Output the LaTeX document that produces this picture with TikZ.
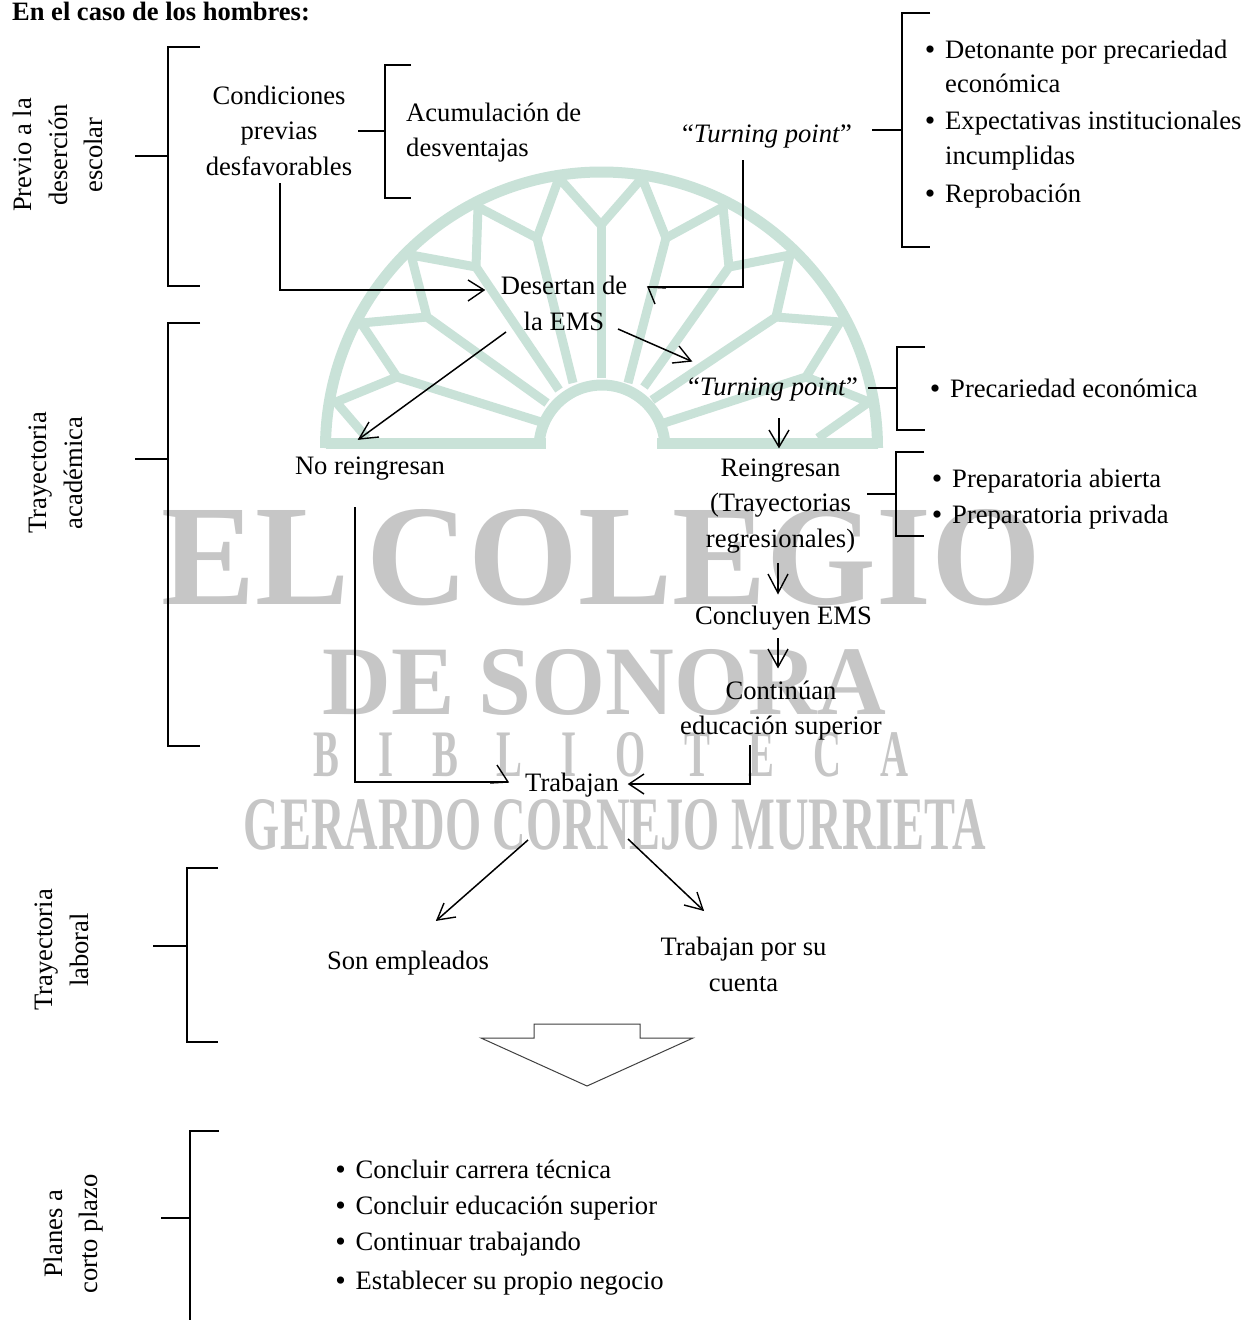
\documentclass[tikz,border=0pt]{standalone}
\usepackage{fontspec}
\usepackage{graphicx}
\setmainfont{Liberation Serif}
\usetikzlibrary{arrows.meta}
\definecolor{wmgreen}{HTML}{C9E2D8}
\definecolor{wmgray}{HTML}{C6C6C6}
\newcommand{\bul}{\makebox[15pt][l]{\raisebox{-1pt}{\fontsize{30}{30}\selectfont\hspace{-5.3pt}•}}}
\tikzset{
  x=1pt,y=-1pt,
  txt/.style={inner sep=0pt,align=center,font=\fontsize{26.6}{35.5}\selectfont,
    execute at begin node={\rule{0pt}{20pt}},execute at end node={\rule[-7pt]{0pt}{7pt}}},
  ltxt/.style={txt,align=left,anchor=west},
  sidetxt/.style={txt,rotate=90},
  wmtext/.style={inner sep=0pt,text=wmgray},
  wmline/.style={draw=wmgreen,line width=9pt,line join=miter,line cap=butt},
  wmband/.style={draw=wmgreen,line width=11pt},
  brace/.style={draw=black,line width=1.8pt,line join=miter},
  conn/.style={draw=black,line width=1.5pt,line join=miter},
  tip/.style={draw=black,line width=1.4pt,line join=miter},
}
\begin{document}
\begin{tikzpicture}
\useasboundingbox (0,0) rectangle (1243,1320);
\fill[white] (0,0) rectangle (1243,1320);
% watermark: rosette
\begin{scope}
\clip (320,448) arc[start angle=180,end angle=360,radius=281] -- cycle;
\draw[wmline] (601,378) -- (601,225);
\draw[wmline] (573,383) -- (537,238) -- (559,178) -- (601,225) -- (642,178) -- (666,238) -- (628,383);
\draw[wmline] (537,238) -- (478,207) -- (476,267) -- (559,390);
\draw[wmline] (476,267) -- (411,255) -- (427,317) -- (547,403);
\draw[wmline] (427,317) -- (361,323) -- (397,377) -- (541,422);
\draw[wmline] (397,377) -- (336,402) -- (367,438);
\draw[wmline] (666,238) -- (723,207) -- (729,267) -- (644,387);
\draw[wmline] (729,267) -- (790,255) -- (776,317) -- (652,400);
\draw[wmline] (776,317) -- (840,322) -- (806,377) -- (664,423);
\draw[wmline] (806,377) -- (869,402) -- (818,438);
\end{scope}
\draw[wmband,line cap=butt] (325.5,443) -- (546,443);
\draw[wmband,line cap=butt] (657,443) -- (877.5,443);
\draw[wmband,line cap=butt] (325.5,448) arc[start angle=180,end angle=360,radius=276];
\draw[wmband,line cap=butt] (539,448) arc[start angle=180,end angle=360,radius=63];
% watermark: text
\node[wmtext] (wm1) at (601.5,557.5) {\resizebox{879pt}{95pt}{\textbf{EL\hspace{.12em}COLEGIO}}};
\node[wmtext] (wm2) at (604.5,682.5) {\resizebox{563pt}{65pt}{\textbf{DE SONORA}}};
\node[wmtext] (wm3) at (611,755) {\resizebox{594pt}{44pt}{\textbf{B\hspace{1em}I\hspace{1em}B\hspace{1em}L\hspace{1em}I\hspace{1em}O\hspace{1em}T\hspace{1em}E\hspace{1em}C\hspace{1em}A}}};
\node[wmtext] (wm4) at (615,825) {\resizebox{742pt}{50pt}{\textbf{GERARDO CORNEJO MURRIETA}}};

% title
\node[inner sep=0pt,anchor=base west,font=\fontsize{26.5}{30}\selectfont\bfseries] (title) at (12,20) {En el caso de los hombres:};

% side labels
\node[sidetxt] (s1) at (61.5,155) {Previo a la\\deserción\\escolar};
\node[sidetxt] (s2) at (59,473) {Trayectoria\\académica};
\node[sidetxt] (s3) at (65,950) {Trayectoria\\laboral};
\node[sidetxt] (s4) at (74.5,1234) {Planes a\\corto plazo};

% brackets
\draw[brace] (200,47) -- (168,47) -- (168,286) -- (200,286);
\draw[brace] (135,156) -- (168,156);
\draw[brace] (200,323) -- (168,323) -- (168,746) -- (200,746);
\draw[brace] (135,459) -- (168,459);
\draw[brace] (218,868) -- (187,868) -- (187,1042) -- (218,1042);
\draw[brace,line width=2.2pt] (153,946) -- (187,946);
\draw[brace] (219,1131) -- (190,1131) -- (190,1320);
\draw[brace] (161,1218) -- (190,1218);
\draw[brace] (411,65) -- (385,65) -- (385,198) -- (411,198);
\draw[brace,line width=2.2pt] (358,131) -- (385,131);
\draw[brace] (930,13) -- (902,13) -- (902,247) -- (930,247);
\draw[brace] (872,130) -- (902,130);
\draw[brace] (925,347) -- (897,347) -- (897,430) -- (925,430);
\draw[brace] (868,388) -- (897,388);
\draw[brace] (924,452) -- (896,452) -- (896,536) -- (924,536);
\draw[brace] (867,494) -- (896,494);

% text nodes
\node[txt] (cond) at (279,134) {Condiciones\\previas\\desfavorables};
\node[ltxt] (acum) at (406,133) {Acumulación de\\desventajas};
\node[txt] (tp1) at (767,135.5) {“\textit{Turning point}”};
\node[ltxt] (b1) at (930,51.5) {\bul Detonante por precariedad};
\node[ltxt] (b1a) at (945,85.5) {económica};
\node[ltxt] (b2) at (930,122.5) {\bul Expectativas institucionales};
\node[ltxt] (b2a) at (945,157.5) {incumplidas};
\node[ltxt] (b3) at (930,195.5) {\bul Reprobación};
\node[txt] (des) at (564,307) {Desertan de\\la EMS};
\node[txt] (tp2) at (773,388.5) {“\textit{Turning point}”};
\node[ltxt] (pe) at (935,390.5) {\bul Precariedad económica};
\node[txt] (nor) at (370,467.5) {No reingresan};
\node[txt] (rei) at (780.5,506.5) {Reingresan\\(Trayectorias\\regresionales)};
\node[ltxt] (pa) at (937,480.5) {\bul Preparatoria abierta};
\node[ltxt] (pp) at (937,516.5) {\bul Preparatoria privada};
\node[txt] (con) at (783.5,618) {Concluyen EMS};
\node[txt] (sup) at (781,711) {Continúan\\educación superior};
\node[txt] (tra) at (572,785) {Trabajan};
\node[txt] (emp) at (408,962.5) {Son empleados};
\node[txt] (cta) at (743.5,968) {Trabajan por su\\cuenta};
\node[ltxt] (l1) at (340.5,1171.5) {\bul Concluir carrera técnica};
\node[ltxt] (l2) at (340.5,1208) {\bul Concluir educación superior};
\node[ltxt] (l3) at (340.5,1244) {\bul Continuar trabajando};
\node[ltxt] (l4) at (340.5,1283) {\bul Establecer su propio negocio};

% connector end points
\coordinate (c1s) at (280,183); \coordinate (c1m) at (280,290); \coordinate (c1e) at (484,290);
\coordinate (c2s) at (743,160); \coordinate (c2m) at (743,287); \coordinate (c2e) at (648,287);
\coordinate (c3s) at (618,329); \coordinate (c3e) at (691,361);
\coordinate (c4s) at (506,332); \coordinate (c4e) at (359,439);
\coordinate (c5s) at (779,418); \coordinate (c5e) at (779,447);
\coordinate (c6s) at (778,563); \coordinate (c6e) at (778,593);
\coordinate (c7s) at (778,638); \coordinate (c7e) at (778,667);
\coordinate (c8s) at (355,507); \coordinate (c8m) at (355,782); \coordinate (c8e) at (508,782);
\coordinate (c9s) at (750,745); \coordinate (c9m) at (750,784); \coordinate (c9e) at (629,784);
\coordinate (c10s) at (528,840); \coordinate (c10e) at (437,920);
\coordinate (c11s) at (628,839); \coordinate (c11e) at (703,910);

% connectors
\draw[conn] (c1s) -- (c1m) -- (c1e);
\draw[tip] (468,280) -- (c1e) -- (468,301);
\draw[conn] (c2s) -- (c2m) -- (c2e);
\draw[tip] (666,288) -- (c2e) -- (655,304);
\draw[conn] (c3s) -- (c3e);
\draw[tip] (679,346) -- (c3e) -- (672,363);
\draw[conn] (c4s) -- (c4e);
\draw[tip] (369,422) -- (c4e) -- (379,437);
\draw[conn] (c5s) -- (c5e);
\draw[tip] (769,430) -- (c5e) -- (789,430);
\draw[conn] (c6s) -- (c6e);
\draw[tip] (768,574) -- (c6e) -- (788,574);
\draw[conn] (c7s) -- (c7e);
\draw[tip] (768,649) -- (c7e) -- (788,649);
\draw[conn] (c8s) -- (c8m) -- (c8e);
\draw[tip] (497,765) -- (c8e) -- (490,783);
\draw[conn] (c9s) -- (c9m) -- (c9e);
\draw[tip] (644,774) -- (c9e) -- (644,794);
\draw[conn] (c10s) -- (c10e);
\draw[tip] (444,903) -- (c10e) -- (456,917);
\draw[conn] (c11s) -- (c11e);
\draw[tip] (697,892) -- (c11e) -- (684,905);

% block arrow
\draw[draw=black!75,line width=1pt,line join=miter] (481,1038) -- (534,1038) -- (534,1024) -- (640,1024) -- (640,1038) -- (693,1038) -- (587,1086) -- cycle;
\end{tikzpicture}
\end{document}
